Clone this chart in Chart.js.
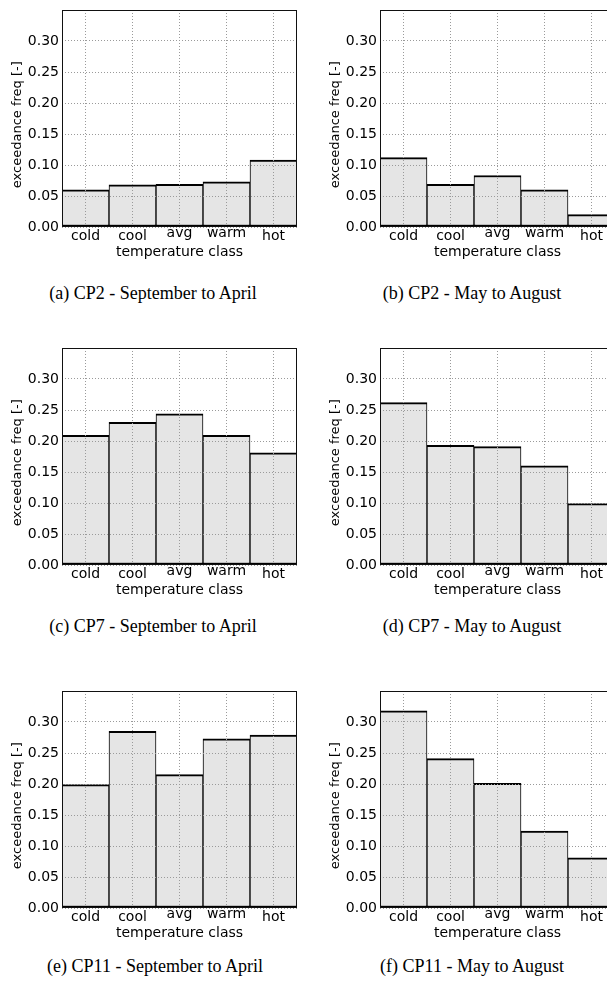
<!DOCTYPE html>
<html>
<head>
<meta charset="utf-8">
<script src="https://cdn.jsdelivr.net/npm/chart.js@4.4.1/dist/chart.umd.min.js"></script>
<style>
  html, body { margin: 0; padding: 0; background: #fff; overflow: hidden; }
  body { width: 607px; height: 984px; position: relative; }
  .panel { position: absolute; width: 300px; height: 260px; }
  .caption {
    position: absolute; width: 300px; height: 20px; line-height: 20px;
    text-align: center; white-space: nowrap;
    font-family: "Liberation Serif", "Times New Roman", serif; font-size: 18px; color: #000;
  }
</style>
</head>
<body>
<div class="panel" style="left:0;top:0"><canvas id="cp2-sep-abr" width="300" height="260"></canvas></div>
<div class="panel" style="left:318px;top:0"><canvas id="cp2-may-ago" width="300" height="260"></canvas></div>
<div class="panel" style="left:0;top:338px"><canvas id="cp7-sep-abr" width="300" height="260"></canvas></div>
<div class="panel" style="left:318px;top:338px"><canvas id="cp7-may-ago" width="300" height="260"></canvas></div>
<div class="panel" style="left:0;top:681px"><canvas id="cp11-sep-abr" width="300" height="260"></canvas></div>
<div class="panel" style="left:318px;top:681px"><canvas id="cp11-may-ago" width="300" height="260"></canvas></div>

<div class="caption" style="left:3px;top:283px">(a) CP2 - September to April</div>
<div class="caption" style="left:322px;top:283px">(b) CP2 - May to August</div>
<div class="caption" style="left:3px;top:616px">(c) CP7 - September to April</div>
<div class="caption" style="left:322px;top:616px">(d) CP7 - May to August</div>
<div class="caption" style="left:5px;top:956px">(e) CP11 - September to April</div>
<div class="caption" style="left:322px;top:956px">(f) CP11 - May to August</div>

<script>
const categorias = ['cold', 'cool', 'avg', 'warm', 'hot'];

const cp2SepAbr = [0.060, 0.068, 0.069, 0.073, 0.108];
const cp2MayAgo = [0.112, 0.069, 0.083, 0.060, 0.020];
const cp7SepAbr = [0.209, 0.230, 0.244, 0.209, 0.181];
const cp7MayAgo = [0.262, 0.193, 0.191, 0.160, 0.099];
const cp11SepAbr = [0.199, 0.285, 0.215, 0.273, 0.279];
const cp11MayAgo = [0.318, 0.241, 0.201, 0.124, 0.081];

const yMax = 0.35;
const yPaso = 0.05;
const ultimaEtiqueta = 0.30;

// marco negro alrededor del area del grafico
const marco = {
  id: 'marco',
  afterDraw(chart) {
    const { ctx, chartArea: a } = chart;
    ctx.save();
    ctx.strokeStyle = '#111';
    ctx.lineWidth = 1;
    ctx.strokeRect(a.left + 0.5, a.top + 0.5, a.right - a.left - 1, a.bottom - a.top - 1);
    ctx.restore();
  }
};

const fuente = 'DejaVu Sans';
const colorRejilla = '#9a9a9a';

function crearGrafico(id, valores) {
  const ctx = document.getElementById(id);
  new Chart(ctx, {
    type: 'bar',
    data: {
      labels: categorias,
      datasets: [{
        data: valores,
        backgroundColor: '#e5e5e5',
        borderColor: '#000',
        borderWidth: { top: 2, bottom: 2, left: 1, right: 1 },
        borderSkipped: false,
        barPercentage: 1,
        categoryPercentage: 1
      }]
    },
    options: {
      responsive: false,
      animation: false,
      layout: { padding: { top: 6, right: 3, left: 0, bottom: 0 } },
      plugins: {
        legend: { display: false },
        tooltip: { enabled: false }
      },
      scales: {
        x: {
          grid: { color: colorRejilla, drawTicks: false, offset: false, z: 1 },
          border: { display: false, dash: [1, 2] },
          ticks: {
            padding: 2,
            color: '#000',
            // avg y warm sin ascendentes: van un poco mas arriba
            font: c => ({ family: fuente, size: 14, lineHeight: (c.index === 2 || c.index === 3) ? 0.62 : 1 })
          },
          title: {
            display: true,
            text: 'temperature class',
            color: '#000',
            font: { family: fuente, size: 14, lineHeight: 1 },
            padding: { top: 0, bottom: 1 }
          },
          afterFit: s => { s.height = 33; }
        },
        y: {
          min: 0,
          max: yMax,
          grid: { color: colorRejilla, drawTicks: false, z: 1 },
          border: { display: false, dash: [1, 2] },
          ticks: {
            stepSize: yPaso,
            padding: 3,
            color: '#000',
            font: { family: fuente, size: 14, lineHeight: 1 },
            callback: v => v > ultimaEtiqueta + 0.001 ? '' : v.toFixed(2)
          },
          title: {
            display: true,
            // espacios al final: el texto queda un poco mas abajo, como en el original
            text: 'exceedance freq [-]   ',
            color: '#000',
            font: { family: fuente, size: 13, lineHeight: 1 },
            padding: { top: 11, bottom: 0 }
          },
          afterFit: s => { s.width = 62; }
        }
      }
    },
    plugins: [marco]
  });
}

crearGrafico('cp2-sep-abr', cp2SepAbr);
crearGrafico('cp2-may-ago', cp2MayAgo);
crearGrafico('cp7-sep-abr', cp7SepAbr);
crearGrafico('cp7-may-ago', cp7MayAgo);
crearGrafico('cp11-sep-abr', cp11SepAbr);
crearGrafico('cp11-may-ago', cp11MayAgo);
</script>
</body>
</html>
